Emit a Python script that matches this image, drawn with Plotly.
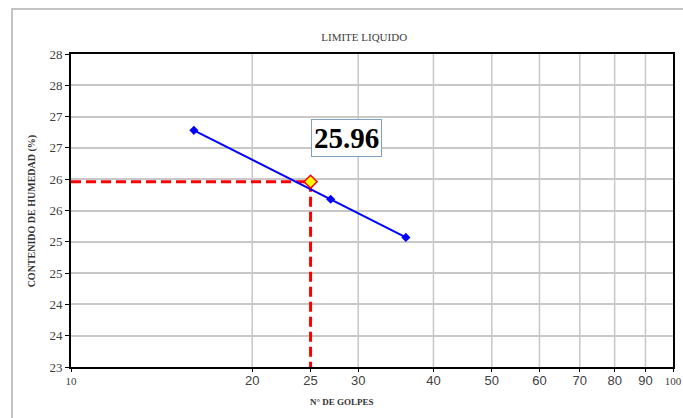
import plotly.graph_objects as go

golpes = [16, 27, 36]
humedad = [26.78, 25.68, 25.07]
ll_golpes = 25
ll_valor = 25.96
y_ticks = [23, 23.5, 24, 24.5, 25, 25.5, 26, 26.5, 27, 27.5, 28]
y_ticktext = ["23", "24", "24", "25", "25", "26", "26", "27", "27", "28", "28"]
x_ticks = [10, 20, 25, 30, 40, 50, 60, 70, 80, 90, 100]
x_ticktext = ["10", "20", "25", "30", "40", "50", "60", "70", "80", "90", "100"]
x_grid = [20, 30, 40, 50, 60, 70, 80, 90]

serif = "Liberation Serif, Times New Roman, serif"

def xlab(v, t):
    if v in (10, 100):
        return t
    return '<span style="font-family:Liberation Sans, Arial, sans-serif;font-size:13px">' + t + '</span>'

fig = go.Figure()

# dashed red guide lines
fig.add_trace(go.Scatter(x=[10, ll_golpes], y=[ll_valor, ll_valor], mode="lines",
                         line=dict(color="#ff0000", width=3, dash="10px,5px"), showlegend=False, hoverinfo="skip"))
fig.add_trace(go.Scatter(x=[ll_golpes, ll_golpes], y=[ll_valor, 23], mode="lines",
                         line=dict(color="#ff0000", width=3, dash="10px,5px"), showlegend=False, hoverinfo="skip"))

fig.add_trace(go.Scatter(x=golpes, y=humedad, mode="lines+markers",
                         line=dict(color="#0000ff", width=2),
                         marker=dict(symbol="diamond", size=7, color="#0000ff"),
                         showlegend=False))

fig.add_trace(go.Scatter(x=[ll_golpes], y=[ll_valor], mode="markers",
                         marker=dict(symbol="diamond", size=10, color="#ffff00",
                                     line=dict(color="#ff0000", width=1.5)),
                         showlegend=False))

fig.add_annotation(x=0.457, y=0.732, xref="x domain", yref="y domain",
                   xanchor="center", yanchor="middle",
                   text="<b>25.96</b>", showarrow=False,
                   font=dict(family=serif, size=29, color="#000000"),
                   bordercolor="#7f9fc4", borderwidth=1, borderpad=2, bgcolor="white")

# axis titles
fig.add_annotation(x=0.45, y=-0.112, xref="paper", yref="paper",
                   xanchor="center", yanchor="middle", showarrow=False,
                   text="<b>N° DE GOLPES</b>",
                   font=dict(family=serif, size=9, color="#333333"))
fig.add_annotation(x=-0.065, y=0.5, xref="paper", yref="paper",
                   xanchor="center", yanchor="middle", showarrow=False, textangle=-90,
                   text="<b>CONTENIDO DE HUMEDAD (%)</b>",
                   font=dict(family=serif, size=10, color="#333333"))

# outer chart frame
fig.add_shape(type="rect", xref="paper", yref="paper",
              x0=-0.098, x1=1.3, y0=-0.4, y1=1.1438,
              line=dict(color="#c4c4c4", width=2), layer="below")

for g in x_grid:
    fig.add_shape(type="line", xref="x", yref="y domain", x0=g, x1=g, y0=0, y1=1,
                  line=dict(color="#c8c8c8", width=1.5), layer="below")

fig.update_layout(
    width=683, height=418, autosize=False,
    margin=dict(l=71, r=10, t=54, b=51, autoexpand=False),
    paper_bgcolor="white", plot_bgcolor="white",
    title=dict(text="LIMITE LIQUIDO", xref="paper", x=0.487, xanchor="center",
               yref="container", y=0.91, yanchor="middle", automargin=False,
               font=dict(family=serif, size=11, color="#404040")),
    xaxis=dict(type="log", range=[1, 2], tickvals=x_ticks,
               ticktext=[xlab(v, t) for v, t in zip(x_ticks, x_ticktext)],
               showgrid=False, showline=True, linecolor="black", linewidth=2, mirror=True,
               ticks="outside", ticklen=3, tickcolor="black", automargin=False,
               tickfont=dict(family=serif, size=11, color="#404040"),
               zeroline=False),
    yaxis=dict(range=[23, 28], tickvals=y_ticks, ticktext=y_ticktext,
               showgrid=True, gridcolor="#c8c8c8", gridwidth=1.5,
               showline=True, linecolor="black", linewidth=2, mirror=True,
               ticks="outside", ticklen=4, tickcolor="black", automargin=False,
               tickfont=dict(family=serif, size=13, color="#404040"),
               zeroline=False),
)

fig.write_html("out.html")
